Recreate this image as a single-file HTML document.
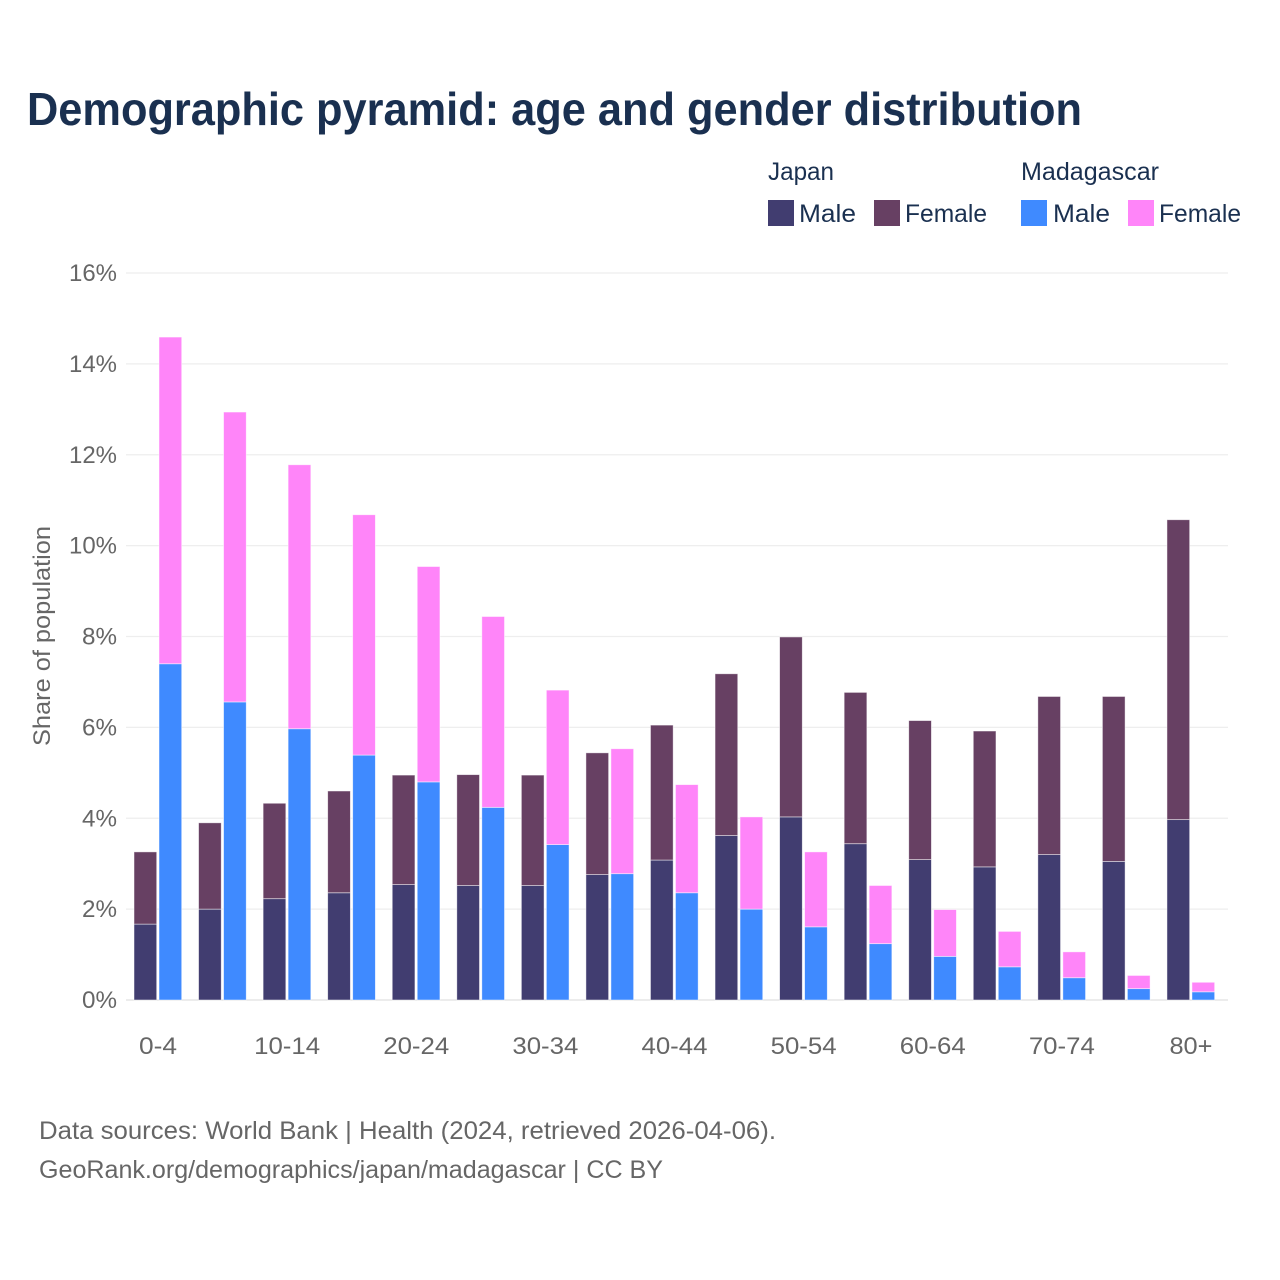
<!DOCTYPE html>
<html lang="en">
<head>
<meta charset="utf-8">
<title>Demographic pyramid: age and gender distribution</title>
<style>
html,body{margin:0;padding:0;background:#fff;width:1280px;height:1280px;overflow:hidden}
svg{display:block;font-family:"Liberation Sans",sans-serif}
</style>
</head>
<body>
<svg id="chart" xmlns="http://www.w3.org/2000/svg" width="1280" height="1280" viewBox="0 0 1280 1280">
  <rect x="0" y="0" width="1280" height="1280" fill="#ffffff"/>
  <text x="27" y="125" font-size="46" font-weight="700" fill="#1a3050" textLength="1055" lengthAdjust="spacingAndGlyphs">Demographic pyramid: age and gender distribution</text>

  <g font-size="25" fill="#1a3050">
    <text x="768" y="180" textLength="66" lengthAdjust="spacingAndGlyphs">Japan</text>
    <text x="1021" y="180" textLength="138" lengthAdjust="spacingAndGlyphs">Madagascar</text>
    <rect x="768" y="200" width="26" height="26" fill="#413d70"/>
    <text x="799" y="222" textLength="57" lengthAdjust="spacingAndGlyphs">Male</text>
    <rect x="874" y="200" width="26" height="26" fill="#674063"/>
    <text x="905" y="222" textLength="82" lengthAdjust="spacingAndGlyphs">Female</text>
    <rect x="1021" y="200" width="26" height="26" fill="#3f8aff"/>
    <text x="1053" y="222" textLength="57" lengthAdjust="spacingAndGlyphs">Male</text>
    <rect x="1128" y="200" width="26" height="26" fill="#ff85f9"/>
    <text x="1159" y="222" textLength="82" lengthAdjust="spacingAndGlyphs">Female</text>
  </g>

  <g id="grid"></g>
  <g id="yticks"></g>
  <g id="bars"></g>
  <g id="xticks"></g>

  <text transform="translate(50,636) rotate(-90)" text-anchor="middle" font-size="24" fill="#666666" textLength="220" lengthAdjust="spacingAndGlyphs">Share of population</text>

  <text x="39" y="1139" font-size="25" fill="#666666" textLength="737" lengthAdjust="spacingAndGlyphs">Data sources: World Bank | Health (2024, retrieved 2026-04-06).</text>
  <text x="39" y="1178" font-size="25" fill="#666666" textLength="624" lengthAdjust="spacingAndGlyphs">GeoRank.org/demographics/japan/madagascar | CC BY</text>
</svg>
<script>
const ageGroups = ["0-4","5-9","10-14","15-19","20-24","25-29","30-34","35-39","40-44","45-49","50-54","55-59","60-64","65-69","70-74","75-79","80+"];
const japanMale = [1.67,2.00,2.23,2.36,2.54,2.52,2.52,2.76,3.08,3.62,4.03,3.44,3.09,2.93,3.20,3.05,3.97];
const japanFemale = [1.59,1.90,2.10,2.24,2.41,2.44,2.43,2.68,2.97,3.56,3.96,3.33,3.06,2.99,3.48,3.63,6.60];
const madagascarMale = [7.40,6.56,5.97,5.39,4.80,4.24,3.42,2.78,2.36,2.00,1.61,1.24,0.96,0.73,0.49,0.25,0.18];
const madagascarFemale = [7.19,6.38,5.81,5.29,4.74,4.20,3.40,2.75,2.38,2.03,1.65,1.28,1.03,0.78,0.57,0.29,0.21];
const yTickValues = [0,2,4,6,8,10,12,14,16];
const xTickLabels = ["0-4","","10-14","","20-24","","30-34","","40-44","","50-54","","60-64","","70-74","","80+"];

const NS = 'http://www.w3.org/2000/svg';
const COLORS = {jm:'#413d70', jf:'#674063', mm:'#3f8aff', mf:'#ff85f9'};
const plot = {left:126, right:1228, top:273, bottom:1000, first:158, step:64.56, barW:22.7, maxV:16};
function yScale(v){ return plot.bottom - (v / plot.maxV) * (plot.bottom - plot.top); }
function xScale(i){ return plot.first + i * plot.step; }

const gridG = document.getElementById('grid');
const yG = document.getElementById('yticks');
yTickValues.forEach(function(v){
  const line = document.createElementNS(NS,'line');
  
  
  line.setAttribute('x1', plot.left);
  line.setAttribute('x2', plot.right);
  line.setAttribute('y1', yScale(v));
  line.setAttribute('y2', yScale(v));
  line.setAttribute('stroke', v === 0 ? '#e6e6e6' : '#eeeeee');
  line.setAttribute('stroke-width', v === 0 ? 1.5 : 1.2);
  gridG.appendChild(line);
  const t = document.createElementNS(NS,'text');
  
  
  t.setAttribute('x', 117);
  t.setAttribute('y', yScale(v) + 8);
  t.setAttribute('text-anchor', 'end');
  t.setAttribute('font-size', 24);
  t.setAttribute('fill', '#666666');
  t.setAttribute('textLength', v >= 10 ? 48 : 35);
  t.setAttribute('lengthAdjust', 'spacingAndGlyphs');
  t.textContent = v + '%';
  yG.appendChild(t);
});

function drawRect(parent, x, v0, v1, color, name){
  const r = document.createElementNS(NS,'rect');
  
  
  r.setAttribute('x', x);
  r.setAttribute('y', yScale(v1));
  r.setAttribute('width', plot.barW);
  r.setAttribute('height', yScale(v0) - yScale(v1));
  r.setAttribute('fill', color);
  r.setAttribute('stroke', 'rgba(255,255,255,0.6)');
  r.setAttribute('stroke-width', 0.8);
  parent.appendChild(r);
}

const barsG = document.getElementById('bars');
ageGroups.forEach(function(a, i){
  const cx = xScale(i);
  const xa = cx - 24;
  const xb = cx + 1;
  drawRect(barsG, xa, 0, japanMale[i], COLORS.jm, 'bar-japan-male');
  drawRect(barsG, xa, japanMale[i], japanMale[i] + japanFemale[i], COLORS.jf, 'bar-japan-female');
  drawRect(barsG, xb, 0, madagascarMale[i], COLORS.mm, 'bar-madagascar-male');
  drawRect(barsG, xb, madagascarMale[i], madagascarMale[i] + madagascarFemale[i], COLORS.mf, 'bar-madagascar-female');
});

const xG = document.getElementById('xticks');
xTickLabels.forEach(function(label, i){
  if (!label) return;
  const t = document.createElementNS(NS,'text');
  
  
  t.setAttribute('x', xScale(i));
  t.setAttribute('y', 1054);
  t.setAttribute('text-anchor', 'middle');
  t.setAttribute('font-size', 24);
  t.setAttribute('fill', '#666666');
  t.setAttribute('textLength', label.length === 5 ? 66 : (label === '80+' ? 43 : 38));
  t.setAttribute('lengthAdjust', 'spacingAndGlyphs');
  t.textContent = label;
  xG.appendChild(t);
});
</script>
</body>
</html>
